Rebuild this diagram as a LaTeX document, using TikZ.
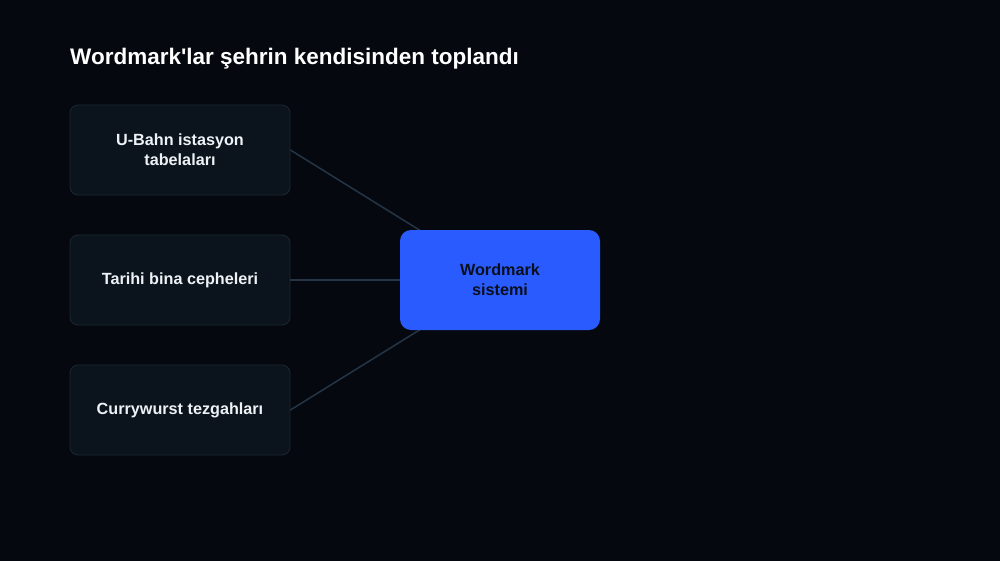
\documentclass[tikz,border=0pt]{standalone}
\usepackage{fontspec}
\setmainfont{Liberation Sans}[Ligatures=TeXOff]
\definecolor{bg}{HTML}{05090F}
\definecolor{boxfill}{HTML}{0B141C}
\definecolor{boxline}{HTML}{1C2731}
\definecolor{conn}{HTML}{253546}
\definecolor{accent}{HTML}{2A5BFF}
\definecolor{lighttext}{HTML}{EEF2F6}
\definecolor{darktext}{HTML}{0A0F1C}
\begin{document}
\begin{tikzpicture}[x=1pt,y=-1pt,
  srcbox/.style={draw=boxline, line width=0.8pt, fill=boxfill, rounded corners=8pt,
    minimum width=220pt, minimum height=90pt, align=center, text=lighttext,
    font=\fontsize{16.2}{20}\selectfont\bfseries, inner sep=0pt},
  hubbox/.style={fill=accent, rounded corners=11pt, minimum width=200pt, minimum height=100pt,
    align=center, text=darktext, font=\fontsize{16.2}{20}\selectfont\bfseries, inner sep=0pt},
  conline/.style={draw=conn, line width=1.5pt}]
\useasboundingbox (0,0) rectangle (1000,560);
\fill[bg] (-5,-5) rectangle (1005,565);
\node[anchor=west, text=white, font=\fontsize{22.5}{27}\selectfont\bfseries, inner sep=0pt] (title) at (70,59) {Wordmark'lar şehrin kendisinden toplandı};
\node[srcbox] (a) at (180,150) {U-Bahn istasyon\\tabelaları};
\node[srcbox] (b) at (180,280) {Tarihi bina cepheleri};
\node[srcbox] (c) at (180,410) {Currywurst tezgahları};
\draw[conline] (a.east) -- (500,280) coordinate (wc);
\draw[conline] (b.east) -- (wc);
\draw[conline] (c.east) -- (wc);
\node[hubbox] (w) at (wc) {Wordmark\\sistemi};
\end{tikzpicture}
\end{document}
